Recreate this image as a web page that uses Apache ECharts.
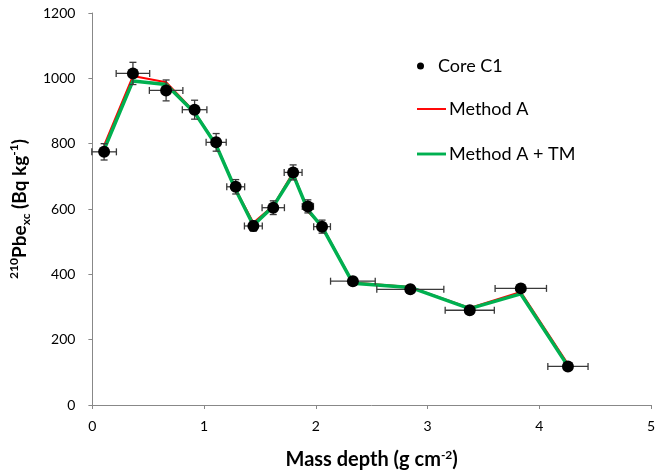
<!DOCTYPE html>
<html>
<head>
<meta charset="utf-8">
<script src="https://cdn.jsdelivr.net/npm/echarts@6/dist/echarts.min.js"></script>
<style>html,body{margin:0;padding:0;background:#fff}#c{width:658px;height:475px}</style>
</head>
<body>
<div id="c"></div>
<script>
var depth = [0.105, 0.363, 0.66, 0.915, 1.108, 1.283, 1.441, 1.619, 1.797, 1.929, 2.056, 2.332, 2.846, 3.378, 3.835, 4.257];
var activity = [775, 1015, 963, 904, 804, 668, 548, 604, 712, 608, 546, 379, 354, 290, 357, 118];
var depthErr = [0.11, 0.15, 0.15, 0.11, 0.09, 0.08, 0.08, 0.10, 0.08, 0.05, 0.075, 0.2, 0.3, 0.22, 0.23, 0.18];
var activityErr = [25, 34, 32, 29, 27, 22, 16, 21, 23, 20, 20, 12, 12, 10, 12, 8];
var methodA = [795, 1007, 988, 897, 797, 660, 558, 610, 712, 592, 548, 375, 361, 297, 346, 125];
var methodATM = [782, 992, 981, 895, 795, 658, 550, 608, 705, 597, 545, 373, 360, 295, 340, 119];
var xTicks = [0, 1, 2, 3, 4, 5];
var yTicks = [0, 200, 400, 600, 800, 1000, 1200];

var FONT = 'Lato, "Open Sans", sans-serif';
function zip(a, b) { return a.map(function (v, i) { return [v, b[i]]; }); }
var errData = depth.map(function (d, i) { return [d, activity[i], depthErr[i], activityErr[i]]; });

var legText = { fontFamily: FONT, fontSize: 18, color: '#000', lineHeight: 20, padding: [0, 0, 0, -2] };
function legend(name, icon, top, h) {
  return { orient: 'vertical', left: 417, top: top, padding: 0, itemWidth: 29, itemHeight: h,
    textStyle: legText, data: [{ name: name, icon: icon }] };
}

var chart = echarts.init(document.getElementById('c'));
chart.setOption({
  animation: false,
  textStyle: { fontFamily: FONT },
  grid: { left: 91, right: 6, top: 13, bottom: 68 },
  legend: [
    legend('Core C1', 'circle', 56, 7),
    legend('Method A', 'path://M0,0 L30,0 L30,2 L0,2 Z', 99, 20),
    legend('Method A + TM', 'path://M0,0 L30,0 L30,3 L0,3 Z', 144, 20)
  ],
  xAxis: {
    type: 'value', min: 0, max: 5, interval: 1,
    name: '{b|Mass depth (g cm}{sup|-2}{b|)}', nameLocation: 'middle', nameGap: 44,
    nameTextStyle: { rich: {
      b: { fontFamily: FONT, fontSize: 20, fontWeight: 'bold', color: '#000', lineHeight: 22 },
      sup: { fontFamily: FONT, fontSize: 12, fontWeight: 'bold', color: '#000', lineHeight: 12, verticalAlign: 'top' }
    } },
    axisLine: { lineStyle: { color: '#888', width: 1 } },
    axisTick: { show: true, inside: false, length: 4, lineStyle: { color: '#888' } },
    axisLabel: { fontSize: 14, color: '#000', margin: 14, fontFamily: FONT, formatter: function (v) { return String(v); } },
    splitLine: { show: false }
  },
  yAxis: {
    type: 'value', min: 0, max: 1200, interval: 200,
    name: '{sup|210}{b|Pbe}{sub|xc}{b| (Bq kg}{sup|-1}{b|)}', nameLocation: 'middle', nameGap: 56, nameRotate: 90,
    nameTextStyle: { rich: {
      b: { fontFamily: FONT, fontSize: 19, fontWeight: 'bold', color: '#000', lineHeight: 24 },
      sup: { fontFamily: FONT, fontSize: 12, fontWeight: 'bold', color: '#000', lineHeight: 14, verticalAlign: 'top' },
      sub: { fontFamily: FONT, fontSize: 12, fontWeight: 'bold', color: '#000', lineHeight: 11, verticalAlign: 'bottom' }
    } },
    axisLine: { show: true, lineStyle: { color: '#888', width: 1 } },
    axisTick: { show: true, inside: false, length: 4, lineStyle: { color: '#888' } },
    axisLabel: { fontSize: 14, color: '#000', margin: 17, fontFamily: FONT, formatter: function (v) { return String(v); } },
    splitLine: { show: false }
  },
  series: [
    {
      name: 'Method A', type: 'line', data: zip(depth, methodA), symbol: 'none',
      lineStyle: { color: '#ff0000', width: 2 }, itemStyle: { color: '#ff0000' }, z: 2
    },
    {
      name: 'Method A + TM', type: 'line', data: zip(depth, methodATM), symbol: 'none',
      lineStyle: { color: '#00b050', width: 3.5 }, itemStyle: { color: '#00b050' }, z: 3
    },
    {
      name: 'errbars', type: 'custom', data: errData, z: 4, silent: true,
      renderItem: function (params, api) {
        var x = api.value(0), y = api.value(1), ex = api.value(2), ey = api.value(3);
        var l = api.coord([x - ex, y]), r = api.coord([x + ex, y]);
        var t = api.coord([x, y + ey]), b = api.coord([x, y - ey]);
        var c = 3.5;
        var st = { stroke: '#3a3a3a', lineWidth: 1.3 };
        return { type: 'group', children: [
          { type: 'line', shape: { x1: l[0], y1: l[1], x2: r[0], y2: r[1] }, style: st },
          { type: 'line', shape: { x1: l[0], y1: l[1] - c, x2: l[0], y2: l[1] + c }, style: st },
          { type: 'line', shape: { x1: r[0], y1: r[1] - c, x2: r[0], y2: r[1] + c }, style: st },
          { type: 'line', shape: { x1: t[0], y1: t[1], x2: b[0], y2: b[1] }, style: st },
          { type: 'line', shape: { x1: t[0] - c, y1: t[1], x2: t[0] + c, y2: t[1] }, style: st },
          { type: 'line', shape: { x1: b[0] - c, y1: b[1], x2: b[0] + c, y2: b[1] }, style: st }
        ] };
      }
    },
    {
      name: 'Core C1', type: 'scatter', data: zip(depth, activity), symbol: 'circle', symbolSize: 12,
      itemStyle: { color: '#000', opacity: 1 }, z: 5
    }
  ]
});
</script>
</body>
</html>
